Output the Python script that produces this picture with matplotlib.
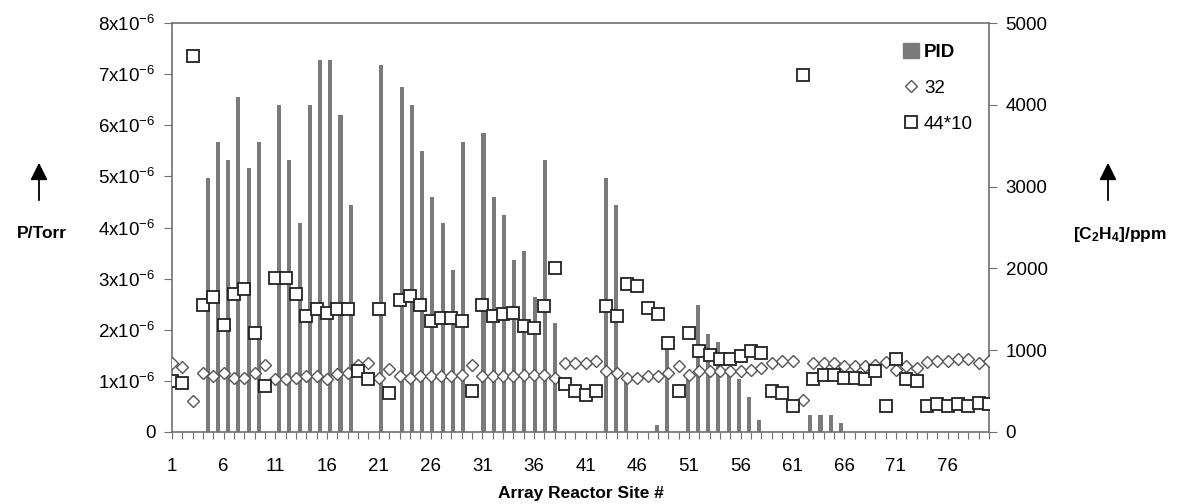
import numpy as np
import matplotlib.pyplot as plt
from matplotlib.lines import Line2D
from matplotlib.patches import Patch, FancyArrowPatch

plt.rcParams['font.family'] = ['Liberation Sans', 'DejaVu Sans']
plt.rcParams['mathtext.default'] = 'regular'

sites = np.arange(1, 81)

# PID signal, ppm (right axis); 0 = no bar
pid = [0, 0, 0, 3100, 3550, 3320, 4100, 3230, 3550, 0,
       4000, 3320, 2560, 4000, 4545, 4545, 3870, 2770, 0, 0,
       4490, 0, 4220, 4000, 3430, 2875, 2560, 1980, 3550, 0,
       3650, 2875, 2650, 2100, 2210, 1650, 3320, 1330, 0, 0,
       0, 0, 3100, 2770, 690, 0, 0, 90, 1060, 0,
       660, 1550, 1200, 1100, 800, 650, 430, 150, 0, 0,
       0, 0, 210, 210, 210, 110, 0, 0, 0, 0,
       0, 0, 0, 0, 0, 0, 0, 0, 0, 0]

# m/z 32, units of 1e-6 Torr (left axis)
mz32 = [1.34, 1.27, 0.60, 1.16, 1.09, 1.16, 1.06, 1.06, 1.16, 1.32,
        1.03, 1.03, 1.06, 1.09, 1.09, 1.04, 1.13, 1.16, 1.31, 1.34,
        1.06, 1.23, 1.09, 1.06, 1.09, 1.09, 1.09, 1.09, 1.12, 1.32,
        1.09, 1.09, 1.09, 1.09, 1.12, 1.12, 1.12, 1.06, 1.35, 1.35,
        1.35, 1.38, 1.19, 1.16, 1.06, 1.06, 1.09, 1.09, 1.16, 1.29,
        1.12, 1.19, 1.19, 1.19, 1.19, 1.19, 1.22, 1.25, 1.35, 1.38,
        1.38, 0.63, 1.35, 1.35, 1.34, 1.29, 1.29, 1.29, 1.31, 1.36,
        1.22, 1.29, 1.26, 1.36, 1.38, 1.38, 1.42, 1.42, 1.35, 1.38]

# m/z 44 times 10, units of 1e-6 Torr (left axis)
mz44x10 = [0.99, 0.96, 7.36, 2.48, 2.64, 2.10, 2.69, 2.79, 1.94, 0.90,
           3.02, 3.02, 2.69, 2.27, 2.40, 2.32, 2.40, 2.40, 1.19, 1.03,
           2.40, 0.76, 2.59, 2.66, 2.49, 2.17, 2.23, 2.23, 2.17, 0.80,
           2.49, 2.27, 2.30, 2.33, 2.07, 2.04, 2.46, 3.21, 0.93, 0.80,
           0.73, 0.80, 2.46, 2.27, 2.89, 2.85, 2.43, 2.30, 1.74, 0.80,
           1.94, 1.58, 1.51, 1.42, 1.42, 1.48, 1.58, 1.55, 0.80, 0.77,
           0.50, 6.99, 1.03, 1.12, 1.12, 1.06, 1.06, 1.03, 1.19, 0.50,
           1.42, 1.03, 0.99, 0.50, 0.54, 0.50, 0.54, 0.50, 0.57, 0.54]

left_ticks = [0, 1, 2, 3, 4, 5, 6, 7, 8]
right_ticks = [0, 1000, 2000, 3000, 4000, 5000]
x_labels = [1, 6, 11, 16, 21, 26, 31, 36, 41, 46, 51, 56, 61, 66, 71, 76]

BAR = '#7a7a7a'
SPINE = '#707070'
FS = 13.5

fig = plt.figure(figsize=(11.78, 5.04), dpi=100)
rect = [172 / 1178, 1 - 432 / 504, (989 - 172) / 1178, (432 - 23) / 504]

# bars: own category axis (80 bins), right y axis
axb = fig.add_axes(rect)
axb.bar(sites - 0.5, pid, width=0.4, color=BAR, zorder=1)
axb.set_xlim(0, 80)
axb.set_ylim(0, 5000)
axb.yaxis.tick_right()
axb.set_yticks(right_ticks)
axb.set_yticklabels([str(t) for t in right_ticks], fontsize=FS)
axb.tick_params(axis='y', direction='out', length=6, color=SPINE, pad=6)
axb.xaxis.set_visible(False)
for s in axb.spines.values():
    s.set_visible(False)

# scatter on top, left y axis
ax = fig.add_axes(rect)
ax.patch.set_visible(False)
ax.plot(sites, mz32, linestyle='none', marker='D', ms=6.3, mfc='white',
        mec='#555555', mew=1.0, zorder=3)
ax.plot(sites, mz44x10, linestyle='none', marker='s', ms=8.2, mfc='white',
        mec='#222222', mew=1.3, zorder=4)
ax.set_xlim(1, 80)
ax.set_ylim(0, 8)
ax.set_yticks(left_ticks)
ax.set_yticklabels(['0'] + ['%dx10$^{-6}$' % t for t in left_ticks[1:]], fontsize=FS)
ax.set_xticks(sites)
ax.set_xticklabels([str(s) if s in x_labels else '' for s in sites], fontsize=FS)
ax.tick_params(axis='x', direction='out', length=5, color=SPINE, pad=14)
ax.tick_params(axis='y', direction='out', length=6, color=SPINE, pad=6)
for s in ax.spines.values():
    s.set_color(SPINE)
    s.set_linewidth(1.2)
ax.set_xlabel('Array Reactor Site #', fontsize=12.5, fontweight='bold', labelpad=8)

handles = [Patch(color=BAR),
           Line2D([], [], linestyle='none', marker='D', ms=6.3, mfc='white', mec='#555555', mew=1.0),
           Line2D([], [], linestyle='none', marker='s', ms=8.2, mfc='white', mec='#222222', mew=1.3)]
leg = ax.legend(handles, ['PID', '32', '44*10'], loc='upper left',
                bbox_to_anchor=(0.885, 0.97), frameon=False, fontsize=FS,
                handlelength=0.9, handleheight=0.9, handletextpad=0.25,
                labelspacing=0.95, borderaxespad=0)
leg.get_texts()[0].set_fontweight('bold')

# side labels with arrows
fig.text(42 / 1178, 1 - 234 / 504, 'P/Torr', ha='center', va='center',
         fontsize=12.5, fontweight='bold')
fig.text(1120 / 1178, 1 - 234 / 504, '[C$_2$H$_4$]/ppm', ha='center', va='center',
         fontsize=12.5, fontweight='bold')
for xa in (39 / 1178, 1108 / 1178):
    fig.add_artist(FancyArrowPatch(
        (xa, 1 - 203 / 504), (xa, 1 - 160 / 504), transform=fig.transFigure,
        arrowstyle='-|>', mutation_scale=26, color='black', lw=1.3))

fig.savefig('out.png', dpi=100)
